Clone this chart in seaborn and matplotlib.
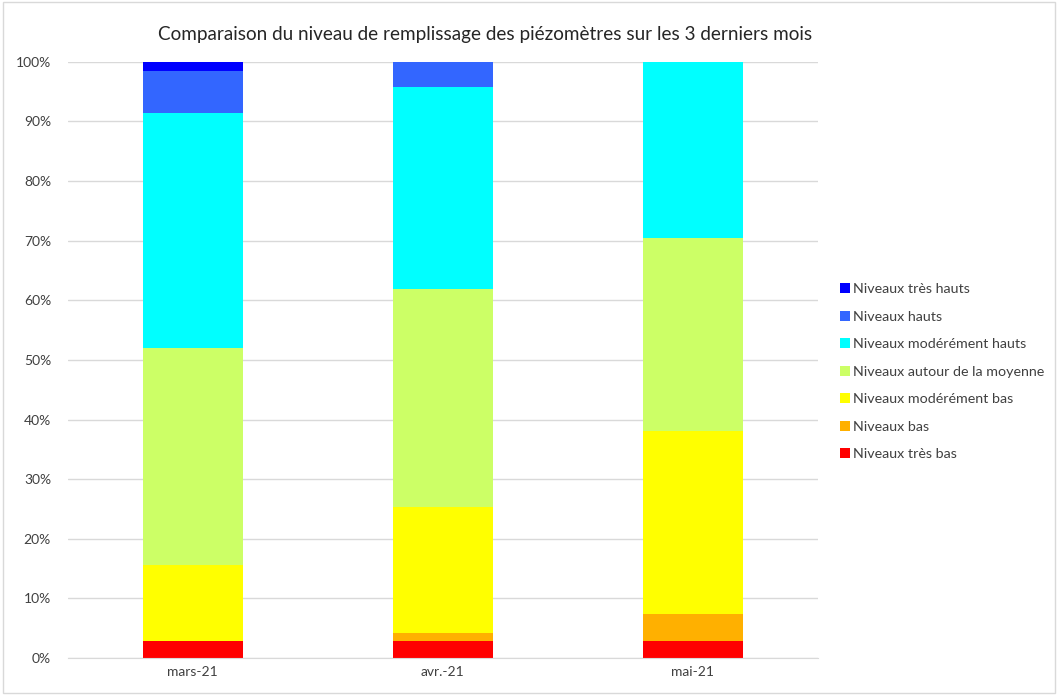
import numpy as np
import pandas as pd
import matplotlib
matplotlib.use("Agg")
import matplotlib.pyplot as plt
import seaborn as sns
from matplotlib.patches import Rectangle

months = ["mars-21", "avr.-21", "mai-21"]
levels = ["Niveaux très bas", "Niveaux bas", "Niveaux modérément bas",
          "Niveaux autour de la moyenne", "Niveaux modérément hauts",
          "Niveaux hauts", "Niveaux très hauts"]
# share of piezometers (%) per month, bottom to top
tres_bas = [2.8, 2.8, 2.9]
bas = [0.0, 1.4, 4.5]
mod_bas = [12.8, 21.1, 30.7]
moyenne = [36.4, 36.6, 32.4]
mod_hauts = [39.4, 33.8, 29.5]
hauts = [7.1, 4.3, 0.0]
tres_hauts = [1.5, 0.0, 0.0]
colors = ["#FF0000", "#FFB000", "#FFFF00", "#CCFF66", "#00FFFF", "#3366FF", "#0000FF"]

series = [tres_bas, bas, mod_bas, moyenne, mod_hauts, hauts, tres_hauts]
df = pd.DataFrame({lvl: vals for lvl, vals in zip(levels, series)}, index=months)

sns.set_style("white")
plt.rcParams['font.family'] = ['Lato', 'DejaVu Sans']

fig = plt.figure(figsize=(10.58, 6.95), dpi=100)
ax = fig.add_axes([0.064, 0.0532, 0.709, 0.858])

bottom = np.zeros(len(months))
for lvl, col in zip(levels, colors):
    sns.barplot(x=months, y=df[lvl].values, bottom=bottom, color=col, width=0.4,
                label=lvl, ax=ax, saturation=1, linewidth=0)
    bottom += df[lvl].values

ax.set_ylim(0, 100)
ax.set_yticks(np.arange(0, 101, 10))
ax.set_yticklabels([f"{v}%" for v in range(0, 101, 10)])
ax.yaxis.grid(True, color="#D9D9D9", linewidth=1)
ax.set_axisbelow(True)
for s in ["top", "right", "left"]:
    ax.spines[s].set_visible(False)
ax.spines["bottom"].set_color("#D9D9D9")
ax.tick_params(axis="both", length=0, labelsize=10, colors="#404040", pad=6)
ax.tick_params(axis="y", pad=12)
ax.set_xlabel("")
ax.set_ylabel("")

fig.text(0.458, 0.95, "Comparaison du niveau de remplissage des piézomètres sur les 3 derniers mois",
         fontsize=13.6, color="#262626", ha="center", va="center")

handles, labels = ax.get_legend_handles_labels()
leg = ax.legend(handles[::-1], labels[::-1], loc="center left", bbox_to_anchor=(1.012, 0.48),
                frameon=False, fontsize=10.3, handlelength=0.7, handleheight=0.7,
                handletextpad=0.25, labelspacing=1.08, labelcolor="#404040")

fig.patches.append(Rectangle((0.003, 0.003), 0.994, 0.994, transform=fig.transFigure,
                             fill=False, edgecolor="#D9D9D9", linewidth=1))

fig.savefig("out.png", dpi=100)
